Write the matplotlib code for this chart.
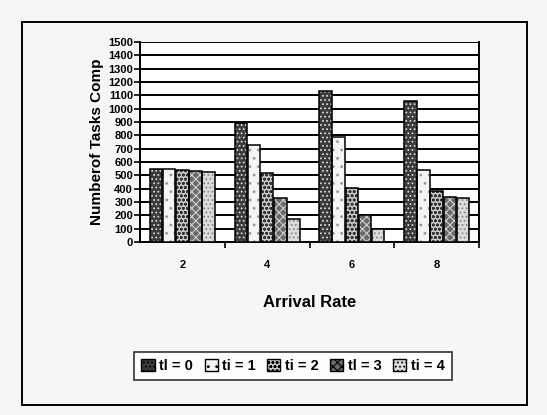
import numpy as np
import matplotlib.pyplot as plt
from matplotlib.patches import Rectangle

plt.rcParams['font.family'] = ['Liberation Sans', 'DejaVu Sans']
plt.rcParams['hatch.linewidth'] = 0.8

arrival_rates = ["2", "4", "6", "8"]
series_labels = ["tl = 0", "ti = 1", "ti = 2", "tl = 3", "ti = 4"]
ti0 = [545, 895, 1135, 1055]
ti1 = [545, 725, 785, 540]
ti2 = [540, 515, 405, 380]
ti3 = [530, 330, 205, 335]
ti4 = [525, 175, 100, 330]
series = [ti0, ti1, ti2, ti3, ti4]

fills = ["#3a3a3a", "#f4f4f4", "#c8c8c8", "#6a6a6a", "#dcdcdc"]
hatches = ["....", "..", "oooo", "xxxx", "...."]
hatch_cols = ["#d8d8d8", "#9a9a9a", "#333333", "#cfcfcf", "#888888"]

fig = plt.figure(figsize=(5.47, 4.15), dpi=100)
fig.patch.set_facecolor("#f6f6f4")
W, H = 547, 415
ax = fig.add_axes([140 / W, 1 - 242 / H, 339 / W, 200 / H])
ax.set_facecolor("white")

x = np.arange(len(arrival_rates))
bw = 0.155
for i, vals in enumerate(series):
    ax.bar(x + (i - 2) * bw, vals, bw * 0.95, color=fills[i], hatch=hatches[i],
           edgecolor=hatch_cols[i], linewidth=0, label=series_labels[i], zorder=3)
# black outline on top of the hatched bars
for cont in ax.containers:
    for b in cont:
        ax.add_patch(Rectangle(b.get_xy(), b.get_width(), b.get_height(),
                               fill=False, edgecolor="black", linewidth=1.1, zorder=4))

ax.set_xlim(-0.5, 3.5)
ax.set_ylim(0, 1500)
ax.set_yticks(np.arange(0, 1501, 100))
ax.yaxis.grid(True, color="black", linewidth=1.4, zorder=0)
ax.set_axisbelow(True)
ax.set_xticks(x + 0.5, minor=False)
ax.set_xticklabels([])
ax.set_xticks(x, minor=True)
ax.set_xticklabels(arrival_rates, minor=True, fontsize=8, fontweight="bold")
ax.tick_params(axis="x", which="minor", length=0, pad=13)
ax.tick_params(axis="x", which="major", length=4, width=1.2, direction="out")
ax.tick_params(axis="y", length=4, width=1.2, labelsize=8, pad=1)
for t in ax.get_yticklabels():
    t.set_fontweight("bold")
ax.spines["top"].set_visible(False)
for s in ["left", "bottom", "right"]:
    ax.spines[s].set_linewidth(1.4)

ax.set_ylabel("Numberof Tasks Comp", fontsize=11, fontweight="bold", labelpad=3)
ax.set_xlabel("Arrival Rate", fontsize=12, fontweight="bold", labelpad=18)

handles = [Rectangle((0, 0), 1, 1, facecolor=fills[i], hatch=hatches[i],
                     edgecolor="black", linewidth=1.0) for i in range(5)]
leg = fig.legend(handles, series_labels, loc="center", ncol=5,
                 bbox_to_anchor=(293 / W, 1 - 366 / H),
                 prop={"size": 10.5, "weight": "bold"},
                 frameon=True, fancybox=False, edgecolor="black",
                 handlelength=0.9, handleheight=0.9, handletextpad=0.3,
                 columnspacing=0.8, borderpad=0.5)
leg.get_frame().set_linewidth(1.2)
leg.get_frame().set_facecolor("white")

fig.patches.append(Rectangle((22 / W, 1 - 405 / H), 505 / W, 383 / H,
                             transform=fig.transFigure, fill=False,
                             edgecolor="black", linewidth=1.4))

fig.savefig("out.png", dpi=100, facecolor=fig.get_facecolor())
